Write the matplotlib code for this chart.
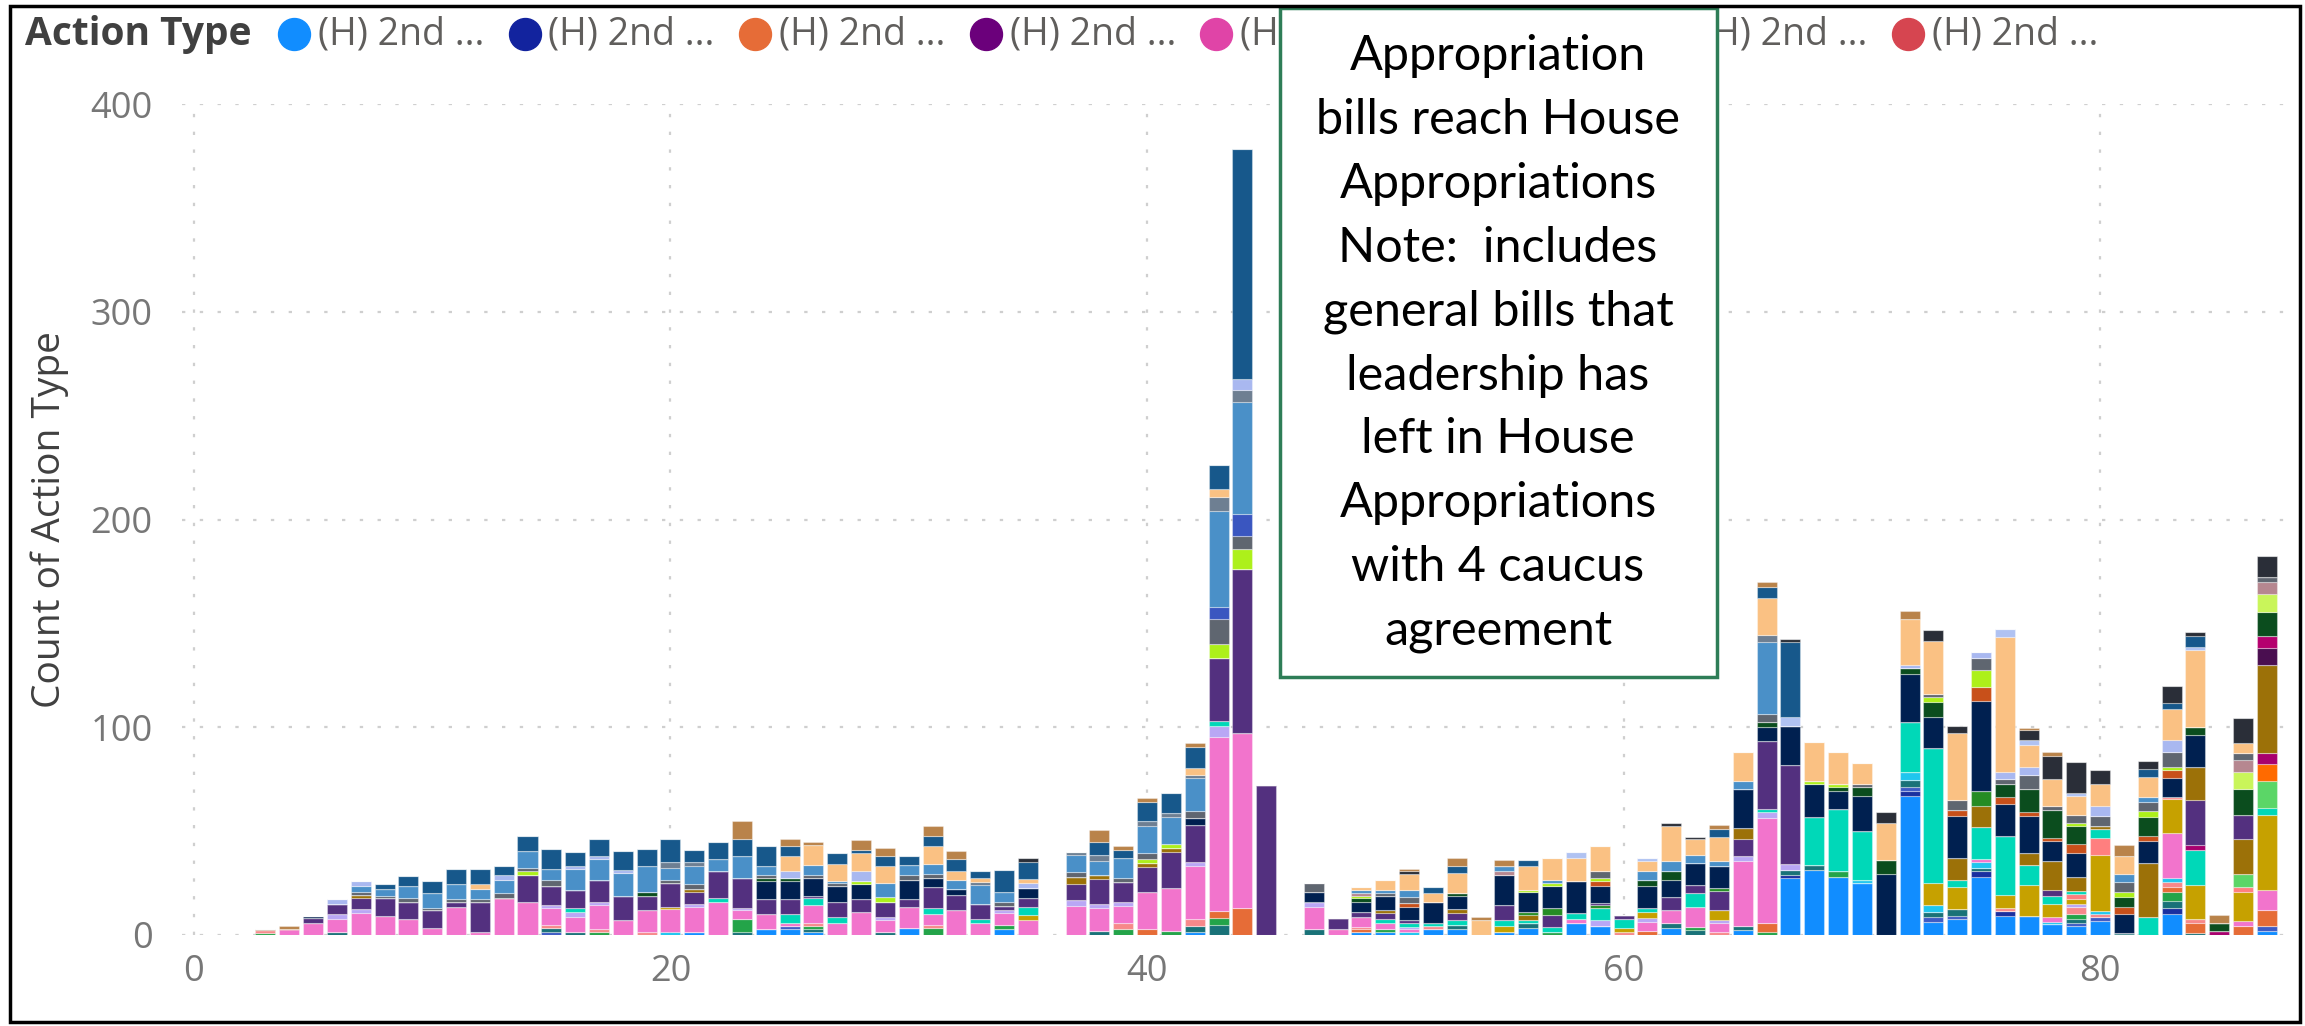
import matplotlib
matplotlib.use("Agg")
import matplotlib.pyplot as plt
from matplotlib.patches import Rectangle
from matplotlib.lines import Line2D
from matplotlib.transforms import Bbox
import numpy as np

# ---------------- data ----------------
days = list(range(3, 88))
x_ticks = [0, 20, 40, 60, 80]
y_ticks = [0, 100, 200, 300, 400]
legend_title = "Action Type"
legend_labels = ["(H) 2nd ..."] * 8
legend_colors = ["#118DFF", "#12239E", "#E66C37", "#6B007B", "#E044A7", "#744EC2", "#D9B300", "#D64550"]
annotation_lines = ["Appropriation", "bills reach House", "Appropriations", "Note:  includes",
                    "general bills that", "leadership has", "left in House", "Appropriations",
                    "with 4 caucus", "agreement"]

# per-series counts by day (stacked bottom -> top)
blue = {21: 1.6, 24: 2.7, 25: 2.7, 26: 1.6, 30: 3.2, 34: 2.7, 42: 1.5, 49: 1.6, 50: 1.6, 52: 2.7, 53: 2.7,
        55: 1.6, 56: 3.2, 58: 6, 59: 4.4, 62: 3.2, 65: 2.4, 67: 27.4, 68: 31.3, 69: 28, 70: 24.8, 72: 67,
        73: 6.4, 74: 7.7, 75: 28, 76: 9, 77: 9.3, 78: 5.2, 79: 4.4, 80: 6.8, 83: 10, 87: 2}
navyblue = {67: 1.6, 72: 2.5, 75: 2.8, 76: 2.5, 83: 3}
royal = {15: 1.6, 25: 1.7, 72: 1.6, 73: 2.1, 74: 1.6, 79: 1.3, 80: 1.7, 87: 2.5}
teal = {6: 1.6, 15: 1.6, 16: 1.6, 23: 1.6, 26: 1.1, 29: 1.6, 38: 2, 42: 3, 43: 5, 47: 2.7, 53: 2.1, 56: 2.4,
        62: 2.4, 63: 2.4, 65: 2, 67: 2.5, 68: 2.4, 72: 3.3, 73: 2.7, 74: 3.2, 75: 1.6, 79: 2, 81: 1.1,
        83: 3.5, 84: 1.1}
green = {3: 1, 17: 1.6, 23: 6, 26: 1.7, 31: 3.2, 34: 2.1, 39: 3, 41: 2, 43: 3, 50: 1.1, 57: 1.6, 63: 1.6,
         66: 1.6, 69: 2.8, 79: 2.4, 83: 4}
orange = {40: 3, 43: 3.4, 44: 13, 49: 1.3, 61: 2, 66: 4, 83: 2.6, 84: 4.9, 86: 4.4, 87: 7.3}
salmon = {3: 1.4, 15: 1.6, 17: 1.1, 19: 1.6, 26: 1.6, 31: 1.6, 39: 2.7, 42: 3, 49: 1.1, 52: 1.7, 60: 1.6,
          64: 1.6, 76: 1.6, 79: 3.3, 80: 1.6, 83: 2.5, 84: 1.6}
cyan = {20: 1.6, 51: 1.6, 70: 1.6, 72: 4.1, 73: 3, 75: 2.9, 78: 1.1, 80: 1.6, 83: 1.9}
pink = {4: 3, 5: 6, 6: 6, 7: 10.6, 8: 9, 9: 7.6, 10: 3.2, 11: 13.4, 12: 1.6, 13: 17.7, 14: 16, 15: 8.1,
        16: 7.3, 17: 11.8, 18: 7.3, 19: 10.2, 20: 10.7, 21: 11.8, 22: 16.1, 23: 4.2, 24: 7.5, 25: 1.6,
        26: 8.5, 27: 6, 28: 11, 29: 5.6, 30: 10.1, 31: 5.3, 32: 12, 33: 6, 34: 5.7, 35: 7, 37: 14, 38: 11,
        39: 8.3, 40: 17.5, 41: 20.8, 42: 25.6, 43: 84, 44: 84, 47: 10.7, 48: 2.7, 49: 4.9, 50: 3.3,
        51: 1.1, 58: 1.6, 61: 4.4, 62: 6.4, 63: 9.7, 64: 4.4, 65: 31.1, 66: 50.9, 75: 1.3, 78: 2.2,
        83: 21.5, 86: 2.4, 87: 9.7}
lavender = {6: 2.4, 7: 1.7, 15: 1.6, 16: 2.4, 17: 1.6, 21: 1.6, 23: 1.2, 29: 1.6, 34: 1.6, 37: 2.9, 38: 2,
            39: 2, 42: 2, 43: 5, 47: 2.6, 51: 1.3, 59: 2.9, 61: 1.6, 64: 1.3, 65: 2.5, 66: 2.5, 67: 2.5,
            79: 1.6}
gold = {20: 1.1, 35: 2.7, 55: 2.8, 60: 1.6, 61: 3.2, 64: 4.5, 73: 10.6, 74: 10.6, 76: 6, 77: 14.7,
        78: 6.5, 79: 2.4, 80: 26.9, 83: 16.6, 84: 16.3, 86: 13.9, 87: 36.1}
salmon_hi = {79: 2.4, 80: 8.1, 83: 1, 86: 2.3}
turquoise = {16: 1.6, 22: 1.6, 25: 4.2, 26: 3.2, 27: 2.9, 31: 3.1, 33: 1.6, 35: 3.7, 43: 2.5, 50: 1.6,
             51: 1.6, 52: 1.6, 53: 2.2, 55: 2.9, 56: 1.7, 57: 2.4, 58: 2.9, 59: 5.6, 60: 4.4, 61: 1.7,
             63: 6.3, 66: 1.5, 68: 23.1, 69: 29.8, 70: 23.6, 72: 23.9, 73: 65.2, 74: 3.3, 75: 15.4,
             76: 28.5, 77: 9.7, 78: 4, 79: 1.6, 80: 4.1, 82: 8.5, 84: 17, 87: 3.3}
lightgreen = {86: 6.6, 87: 13}
brightorange = {87: 8.2}
magenta = {84: 2.4, 85: 2, 87: 5.7}
purple = {5: 2, 6: 5, 7: 5.3, 8: 8.7, 9: 8.4, 10: 8.6, 11: 2.6, 12: 14.4, 14: 13, 15: 8.9, 16: 8.9,
          17: 10.5, 18: 11.6, 19: 7.1, 20: 11.6, 21: 5.5, 22: 12.9, 23: 14.4, 24: 7.1, 25: 7.1, 26: 1.3,
          27: 7.2, 28: 6.2, 29: 7.2, 30: 3.9, 31: 9.8, 32: 7.3, 33: 7.4, 34: 1.9, 35: 4.3, 37: 7.6,
          38: 12, 39: 9.6, 40: 12, 41: 17, 42: 17.7, 43: 30.5, 44: 79, 45: 72, 48: 5.3, 49: 2.4, 50: 2.9,
          51: 1.7, 53: 3.5, 55: 7.2, 57: 5.7, 60: 2.1, 62: 6.5, 63: 4, 64: 9.2, 65: 8.3, 66: 33, 67: 48,
          78: 2.8, 84: 21.5}
olive = {3: 0.6, 7: 1.6, 21: 1.5, 37: 3.3, 38: 2, 40: 2, 41: 2, 50: 1.6, 53: 1.9, 56: 2.4, 65: 5.3,
         74: 10.6, 75: 10.2, 77: 5.7, 78: 13.9, 79: 6.5, 80: 1.6, 82: 26, 84: 16, 86: 16.8, 87: 42.3}
green_mid = {56: 1.6, 57: 3.2, 59: 1.6, 64: 1.6, 75: 7.3}
purple_hi = {59: 0.8, 86: 11.6}
darkpurple = {87: 8.2}
magenta_hi = {87: 5.6}
navy = {5: 1, 24: 8.7, 25: 8.7, 26: 8.4, 27: 7.4, 28: 7.4, 30: 9.3, 31: 4.4, 32: 2.7, 35: 4.8, 42: 3.7,
        47: 4.5, 49: 4.7, 50: 6.9, 51: 6.4, 52: 10, 53: 6.5, 55: 14.5, 56: 9.2, 57: 10.5, 58: 15.6,
        59: 8.1, 61: 10.5, 62: 8.1, 63: 10.7, 64: 10.4, 65: 18.9, 66: 6.5, 67: 18.8, 68: 16, 69: 8.8,
        70: 17, 71: 29.6, 72: 23.3, 73: 15, 74: 20.3, 75: 43.2, 76: 15.4, 77: 17.9, 78: 9.4, 79: 11.4,
        81: 9, 82: 10.6, 83: 9.2, 84: 15.4}
orangered = {51: 1.6, 59: 2.6, 74: 3, 75: 6.5, 76: 3.6, 77: 1.7, 78: 1.6, 79: 4.6, 81: 3.3, 82: 2.5,
             83: 3.8}
darkgreen = {19: 1.6, 24: 1.4, 25: 1.4, 49: 1.7, 53: 1.3, 61: 3.2, 62: 4, 66: 2.4, 69: 1.6, 70: 4.2,
             71: 6.4, 72: 2.8, 73: 7.3, 76: 6.2, 77: 11.4, 78: 13.4, 79: 8.4, 81: 4.8, 82: 9.2, 84: 4,
             85: 4, 86: 12.4, 87: 11.4}
lime = {14: 1.6, 28: 1.4, 29: 2.4, 40: 2, 41: 2, 43: 6.5, 44: 10, 49: 1.1, 56: 1.3, 57: 1.6, 59: 1.4,
        68: 1.1, 69: 1.8, 73: 2.5, 75: 8.2, 79: 1.6, 81: 2.5, 82: 3, 83: 1.5}
yellowlime = {86: 8.1, 87: 9}
mauve = {49: 1.6, 55: 1.6, 86: 5.7, 87: 5.7}
gray = {7: 1.5, 8: 1.1, 9: 1.7, 10: 1.2, 11: 1.1, 12: 1.3, 13: 2.4, 14: 1.6, 15: 3, 20: 1.6, 21: 2.5,
        24: 1.6, 26: 1.6, 27: 1.6, 30: 2.4, 31: 2.1, 34: 2.1, 37: 2.7, 39: 2, 40: 3, 42: 3.4, 43: 12,
        44: 6, 47: 4.5, 50: 1.3, 51: 3.2, 59: 3.2, 66: 4.1, 70: 1.6, 73: 1.1, 74: 4.9, 75: 6, 76: 2.4,
        77: 6.5, 78: 2.1, 79: 4.1, 80: 4.9, 81: 4.9, 82: 4, 83: 6.8, 86: 3.5, 87: 2.4}
royal2 = {43: 6, 44: 10.5}
lightblue = {7: 2.9, 8: 3.2, 9: 5.7, 10: 7, 11: 7.4, 12: 4.7, 13: 6.5, 14: 8, 15: 5.6, 16: 10, 17: 10,
             18: 11, 19: 12.5, 20: 5.6, 21: 8.9, 22: 6, 23: 10.5, 24: 4, 26: 4.9, 27: 0.8, 29: 6.4,
             30: 4.8, 31: 4.8, 32: 4.6, 33: 9.2, 34: 4.8, 37: 8, 38: 6.6, 39: 9.4, 40: 13, 41: 13,
             42: 15.7, 43: 46, 44: 54, 49: 1.5, 50: 1.6, 51: 3.4, 55: 2.4, 57: 1.3, 61: 4, 62: 4.9, 63: 4,
             64: 2.5, 65: 3.7, 66: 34.5, 81: 4, 82: 2.8}
gray2 = {20: 2.8, 21: 1.6, 33: 1.1, 37: 1.6, 38: 2.9, 40: 2.5, 41: 2, 42: 1.4, 43: 7, 44: 6, 66: 3.2}
lavblue = {6: 2.3, 7: 2.4, 13: 2.4, 16: 1.6, 17: 1.3, 18: 1.6, 25: 3.2, 28: 4.6, 35: 2.5, 44: 5, 72: 1.6,
           75: 2.6, 76: 3.3, 77: 4.1, 80: 4.9, 83: 6}
peach = {12: 2.5, 25: 7.3, 26: 9.6, 27: 8.4, 28: 8.9, 29: 8.4, 31: 8.4, 32: 4, 33: 2.1, 35: 2, 42: 3.4,
         43: 4, 49: 1.4, 50: 4.8, 51: 7.3, 52: 4, 53: 9.8, 54: 7.3, 56: 11.6, 57: 10.7, 58: 11,
         59: 12.1, 61: 4.9, 62: 16.9, 63: 7.3, 64: 11.8, 65: 13.8, 66: 17.8, 68: 19.2, 69: 15.5,
         70: 9.8, 71: 18, 72: 21.8, 73: 25.4, 74: 32, 76: 65.1, 77: 10.5, 78: 13, 79: 9, 80: 10.6,
         81: 8.2, 82: 9.4, 83: 15, 84: 37, 86: 4.9}
lavtop = {58: 2.8, 61: 1.5, 67: 4.2, 76: 3.8, 77: 2.5, 79: 1.2, 84: 1.6}
darkblue = {8: 2.5, 9: 5.1, 10: 6, 11: 7.5, 12: 7.3, 13: 4, 14: 7.6, 15: 9.5, 16: 6.4, 17: 8.4, 18: 8.8,
            19: 8.5, 20: 11.3, 21: 6, 22: 8.1, 23: 8.1, 24: 9.7, 25: 5.1, 27: 5.3, 28: 1.6, 29: 4.8,
            30: 4.4, 31: 5.1, 32: 5.9, 33: 3.2, 34: 10.5, 35: 8, 38: 6.2, 39: 3.7, 40: 9.2, 41: 9.4,
            42: 10, 43: 11.5, 44: 111, 52: 3, 53: 3.2, 56: 2.9, 64: 3.7, 66: 5.6, 67: 36, 82: 4, 83: 3,
            84: 4.9}
charcoal = {35: 2.1, 51: 1.6, 62: 1.3, 63: 1.3, 67: 1.7, 71: 5.4, 73: 5.7, 74: 3.3, 77: 4.5, 78: 11,
            79: 15.2, 80: 6.8, 82: 3.9, 83: 8, 84: 2.2, 86: 11.9, 87: 9.8}
brown = {4: 1.5, 23: 9, 25: 3, 26: 1.5, 28: 4.8, 29: 3.8, 31: 4.5, 32: 3.7, 38: 5.7, 39: 2, 40: 1.7,
         42: 2, 51: 1.2, 53: 4, 54: 1.6, 55: 3.3, 64: 2, 66: 2.4, 72: 4.1, 77: 1.2, 78: 2.1, 81: 5.7,
         85: 3.8}

# stacking order and colours
stack = [
    (blue, "#118DFF"), (navyblue, "#1A2FA0"), (royal, "#3F5BC4"), (teal, "#197278"),
    (green, "#23A449"), (orange, "#E66C37"), (salmon, "#F7888A"), (cyan, "#1FC6EE"),
    (pink, "#F274CC"), (lavender, "#B9A7F5"), (gold, "#C6A100"), (salmon_hi, "#FF7F7F"),
    (turquoise, "#00D8B8"), (lightgreen, "#5BD667"), (brightorange, "#FF6A00"), (magenta, "#A8006E"),
    (purple, "#53307F"), (olive, "#9C7108"), (green_mid, "#258C24"), (purple_hi, "#53307F"),
    (darkpurple, "#4A0E50"), (magenta_hi, "#B5006E"), (navy, "#002050"), (orangered, "#C8501A"),
    (darkgreen, "#0B4D1E"), (lime, "#ADF01A"), (yellowlime, "#C9F55A"), (mauve, "#B68790"),
    (gray, "#5F6670"), (royal2, "#3A56C0"), (lightblue, "#4A90C8"), (gray2, "#6E7F92"),
    (lavblue, "#A9B8F0"), (peach, "#FAC183"), (lavtop, "#B0C2F2"), (darkblue, "#17588B"),
    (charcoal, "#2A2E38"), (brown, "#B9834A"),
]

# ---------------- figure ----------------
W, H = 2305, 1026
fig = plt.figure(figsize=(W / 100, H / 100), dpi=100)
fig.patch.set_facecolor("white")

ax_l, ax_r, ax_t, ax_b = 182, 2286, 104, 935
ax = fig.add_axes([ax_l / W, 1 - ax_b / H, (ax_r - ax_l) / W, (ax_b - ax_t) / H])

bottom = np.zeros(len(days))
for vals_dict, col in stack:
    vals = np.array([vals_dict.get(d, 0.0) for d in days])
    ax.bar(days, vals, bottom=bottom, width=0.84, color=col,
           edgecolor=(1, 1, 1, 0.35), linewidth=0.8, zorder=3)
    bottom += vals

ax.set_xlim(-0.5, 87.8)
ax.set_ylim(0, 400)
ax.set_xticks(x_ticks)
ax.set_yticks(y_ticks)
for s in ax.spines.values():
    s.set_visible(False)
ax.grid(True, color="#CFCFCF", linestyle=(0, (1.5, 6.5)), linewidth=1.6, zorder=0)
ax.tick_params(axis="both", length=0, labelsize=26, labelcolor="#777777")
ax.tick_params(axis="y", pad=21)
ax.tick_params(axis="x", pad=14)
for lab in ax.get_xticklabels() + ax.get_yticklabels():
    lab.set_fontfamily("Open Sans")

fig.text(50 / W, 1 - (ax_t + ax_b) / 2 / H, "Count of Action Type", rotation=90, va="center",
         ha="center", fontsize=28, color="#404040", family="Open Sans")

# legend
ly = 1 - 34 / H
fig.text(25 / W, ly, legend_title, fontweight="bold", fontsize=28, color="#404040",
         va="center", ha="left", family="Open Sans")
box_x0, box_x1 = 1280, 1717
for i, (lab, c) in enumerate(zip(legend_labels, legend_colors)):
    cx = 294 + 230.5 * i
    tx = cx + 24
    if cx + 16 < box_x0 or cx - 16 > box_x1:
        fig.add_artist(Line2D([cx / W], [ly], marker="o", markersize=23, color=c,
                              transform=fig.transFigure, linestyle="none"))
    t = fig.text(tx / W, ly, lab, fontsize=27, color="#605E5C", va="center", ha="left",
                 family="Open Sans")
    if tx + 180 > box_x0 and tx < box_x0:
        t.set_clip_box(Bbox.from_extents(0, 0, box_x0, H))
        t.set_clip_on(True)
    elif tx < box_x1 and tx + 180 > box_x1:
        t.set_clip_box(Bbox.from_extents(box_x1, 0, W, H))
        t.set_clip_on(True)
    elif box_x0 <= tx and tx + 180 <= box_x1:
        t.set_visible(False)

# annotation box
fig.add_artist(Rectangle((box_x0 / W, 1 - 677 / H), (box_x1 - box_x0) / W, 669 / H,
                         transform=fig.transFigure, facecolor="white", edgecolor="#2E7D57",
                         linewidth=2.5, zorder=10))
for i, line in enumerate(annotation_lines):
    yb = 70.5 + 63.8 * i
    fig.text(1498 / W, 1 - yb / H, line, ha="center", va="baseline", fontsize=35,
             color="black", family="Lato", zorder=11)

# outer frame
fig.add_artist(Rectangle((10 / W, 4 / H), 2290 / W, 1016 / H, transform=fig.transFigure,
                         fill=False, edgecolor="black", linewidth=2.5, zorder=12))

fig.savefig("out.png", dpi=100, facecolor="white")
